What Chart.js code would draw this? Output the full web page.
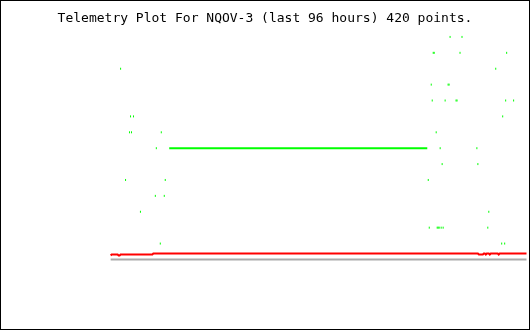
<!DOCTYPE html>
<html>
<head>
<meta charset="utf-8">
<script src="https://cdn.jsdelivr.net/npm/chart.js@4.4.1/dist/chart.umd.min.js"></script>
<style>
  html, body { margin: 0; padding: 0; background: #ffffff; }
  canvas { display: block; background: #ffffff; }
</style>
</head>
<body>
<canvas id="c" width="530" height="330"></canvas>
<script>
// Sample index (0..419) of each green reading, and its level
const greenIndex = [10, 20, 23, 19, 21, 51, 46, 15, 55, 45, 54, 30, 50,
  343, 342, 354, 325, 326, 352, 399, 388, 323, 340, 341, 324, 337, 348, 349,
  398, 406, 395, 328, 332, 369, 334, 370, 320, 381, 321, 329, 330, 331, 333,
  335, 380, 394, 397];
const greenLevel = [12, 9, 9, 8, 8, 8, 7, 5, 5, 4, 4, 3, 1,
  15, 14, 14, 13, 13, 13, 13, 12, 11, 11, 11, 10, 10, 10, 10,
  10, 10, 9, 8, 7, 7, 6, 6, 5, 3, 2, 2, 2, 2, 2,
  2, 2, 1, 1];
// Steady green run
const greenRunIndex = [59, 319];
const greenRunLevel = [7, 7];
// Red trace (index, value) at change points
const redIndex = [0, 1, 7, 8, 9, 10, 42, 43, 370, 371, 375, 376, 377, 378, 379, 381, 382, 383, 390, 391, 392, 419];
const redValue = [0.25, 0.3125, 0.3125, 0.25, 0.25, 0.3125, 0.3125, 0.375, 0.375, 0.3125, 0.3125, 0.375, 0.375, 0.3125, 0.375, 0.375, 0.3125, 0.375, 0.375, 0.3125, 0.375, 0.375];
// Grey baseline
const greyIndex = [0, 419];
const greyValue = [0, 0];

const titleText = 'Telemetry Plot For NQOV-3 (last 96 hours) 420 points.';

const pts = (xs, ys) => xs.map((x, k) => ({ x: x, y: ys[k] }));

const borderPlugin = {
  id: 'frame',
  afterDraw(chart) {
    const ctx = chart.ctx;
    ctx.save();
    ctx.strokeStyle = '#000000';
    ctx.lineWidth = 1;
    ctx.strokeRect(0.5, 0.5, chart.width - 1, chart.height - 1);
    ctx.restore();
  }
};

new Chart(document.getElementById('c'), {
  type: 'scatter',
  data: {
    datasets: [
      {
        label: 'grey',
        data: pts(greyIndex, greyValue),
        showLine: true,
        borderColor: '#aaaaaa',
        borderWidth: 2,
        pointRadius: 0,
        clip: false
      },
      {
        label: 'red',
        data: pts(redIndex, redValue),
        showLine: true,
        borderColor: '#ff0000',
        borderWidth: 2,
        pointRadius: 0,
        clip: false
      },
      {
        label: 'green run',
        data: pts(greenRunIndex, greenRunLevel),
        showLine: true,
        borderColor: '#00ff00',
        borderWidth: 2,
        borderCapStyle: 'butt',
        pointRadius: 0,
        clip: false
      },
      {
        label: 'green',
        data: pts(greenIndex, greenLevel),
        showLine: false,
        pointStyle: 'line',
        rotation: 90,
        pointRadius: 1,
        pointHoverRadius: 1,
        borderColor: '#00ff00',
        backgroundColor: '#00ff00',
        borderWidth: 1,
        clip: false
      }
    ]
  },
  options: {
    responsive: false,
    animation: false,
    events: [],
    layout: { padding: 0 },
    plugins: {
      legend: { display: false },
      tooltip: { enabled: false },
      title: {
        display: true,
        text: titleText,
        color: '#000000',
        font: { family: '"DejaVu Sans Mono", monospace', size: 13, weight: 'normal', lineHeight: '16px' },
        padding: { top: 11, bottom: 0 }
      }
    },
    scales: {
      x: { type: 'linear', display: false, min: -109.5, max: 420.5 },
      y: { type: 'linear', display: false, min: -4.3125, max: 14.625 }
    }
  },
  plugins: [borderPlugin]
});
</script>
</body>
</html>
